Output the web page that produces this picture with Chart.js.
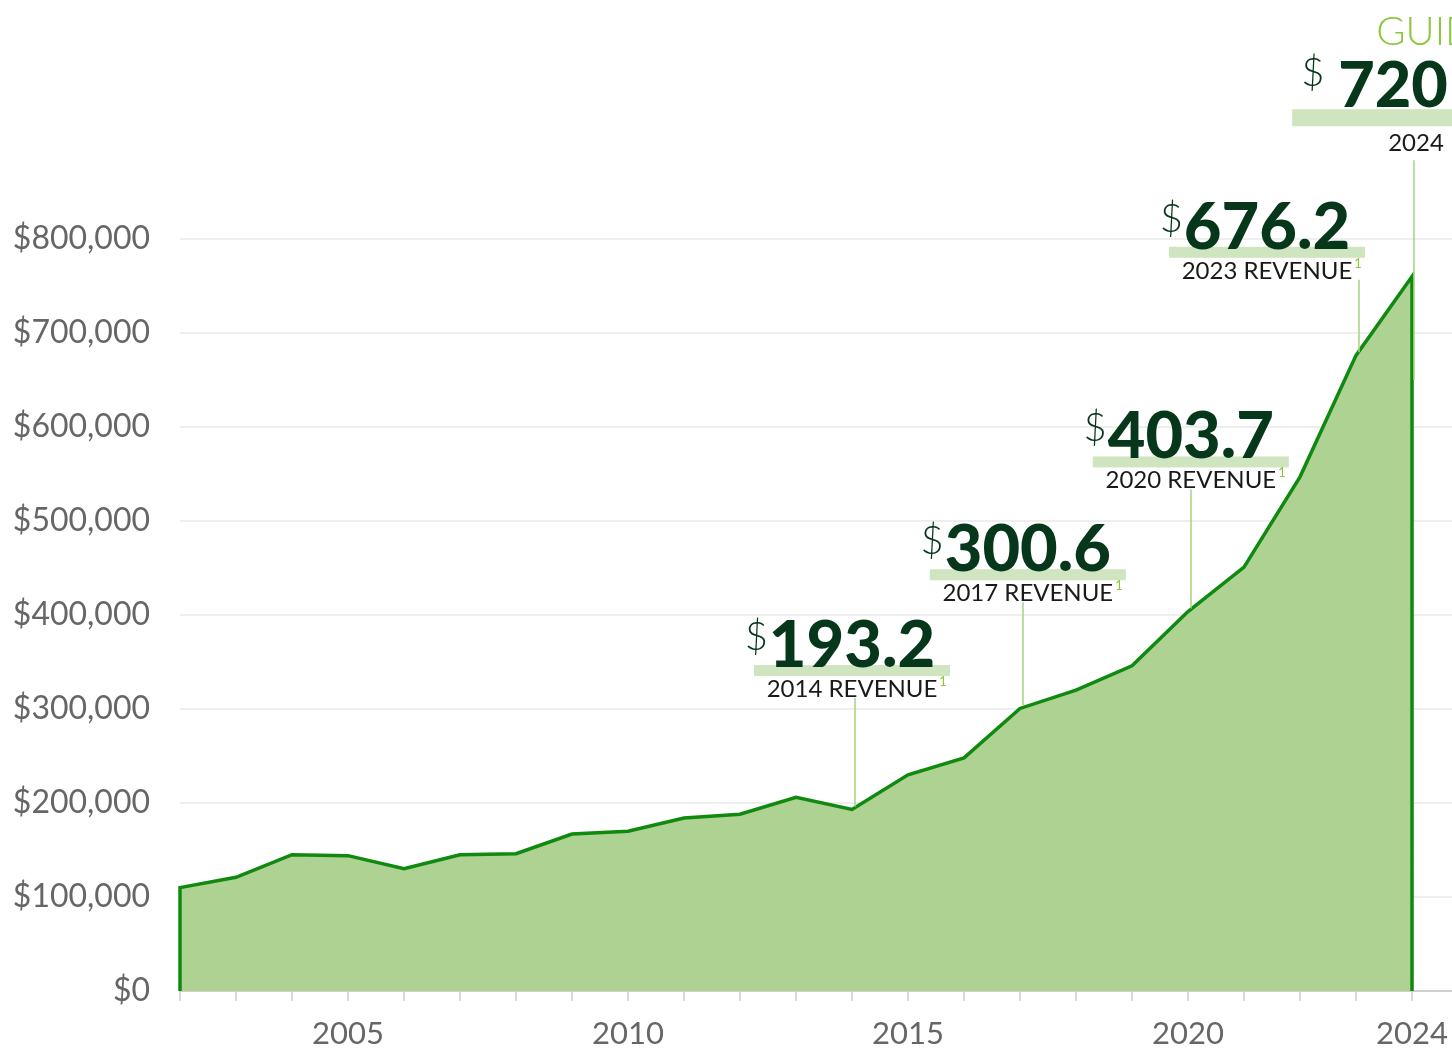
<!DOCTYPE html>
<html>
<head>
<meta charset="utf-8">
<script src="https://cdn.jsdelivr.net/npm/chart.js@4"></script>
<style>
  html, body { margin: 0; padding: 0; background: #fff; }
  #wrap { width: 1452px; height: 1048px; position: relative; }
</style>
</head>
<body>
<div id="wrap"><canvas id="revChart"></canvas></div>
<script>
/* Revenue area chart, 2002–2024 */

const years = [2002, 2003, 2004, 2005, 2006, 2007, 2008, 2009, 2010, 2011, 2012,
  2013, 2014, 2015, 2016, 2017, 2018, 2019, 2020, 2021, 2022, 2023, 2024];
const revenue = [110000, 121000, 145000, 144000, 130000, 145000, 146000, 167000, 170000,
  184000, 188000, 206000, 193200, 230000, 248000, 300600, 320000, 346000, 403700,
  451000, 547000, 676200, 760000];
const yearLabels = [2005, 2010, 2015, 2020, 2024];

// call-outs
const noteYears = [2014, 2017, 2020, 2023];
const noteValues = ['193.2', '300.6', '403.7', '676.2'];
const noteLabels = ['2014 REVENUE', '2017 REVENUE', '2020 REVENUE', '2023 REVENUE'];
const guideYear = 2024;
const guideValue = '720';
const guideLabel = '2024';
const guideTitle = 'GUIDANCE';

// where each call-out bar sits, in axis units (bar centre year, bar bottom value)
const noteAnchors = [
  { x: 2014.0, y: 335000 },
  { x: 2017.14, y: 437000 },
  { x: 2020.05, y: 557000 },
  { x: 2021.41, y: 780000 }
];
// guidance block: bar left edge year, bar bottom value, where its leader stops
const guideAnchor = { x: 2021.86, y: 920000, leadTo: 650000 };

const DARK = '#06371a';
const LIGHT = '#8dc63f';
const BAR = '#cfe5c0';
const LEAD = '#a3d47f';

// closed outline: drop to zero at both ends so the edge is stroked too
const points = [{ x: years[0], y: 0 }]
  .concat(years.map((y, i) => ({ x: y, y: revenue[i] })))
  .concat([{ x: years[years.length - 1], y: 0 }]);

const calloutPlugin = {
  id: 'callouts',
  afterDraw(chart) {
    const ctx = chart.ctx;
    const xs = chart.scales.x, ys = chart.scales.y;
    ctx.save();

    noteYears.forEach((yr, i) => {
      const idx = years.indexOf(yr);
      const px = xs.getPixelForValue(yr);
      const py = ys.getPixelForValue(revenue[idx]);
      const C = xs.getPixelForValue(noteAnchors[i].x);
      const B = ys.getPixelForValue(noteAnchors[i].y);

      // highlight bar
      ctx.fillStyle = BAR;
      ctx.fillRect(C - 98, B - 11, 196, 11);

      // big number
      ctx.font = '900 65px Lato';
      ctx.fillStyle = DARK;
      ctx.textAlign = 'center';
      ctx.textBaseline = 'alphabetic';
      const w = ctx.measureText(noteValues[i]).width;
      ctx.fillText(noteValues[i], C, B - 9);

      // dollar sign
      ctx.font = '300 40px Lato';
      ctx.textAlign = 'right';
      ctx.fillText('$', C - w / 2 - 1, B - 26);

      // label + footnote
      ctx.font = '400 24px Lato';
      ctx.fillStyle = '#1a1a1a';
      ctx.textAlign = 'center';
      const lw = ctx.measureText(noteLabels[i]).width;
      const lc = C;
      ctx.fillText(noteLabels[i], lc, B + 21);
      ctx.font = '400 13px Lato';
      ctx.fillStyle = LIGHT;
      ctx.textAlign = 'left';
      ctx.fillText('1', lc + lw / 2 + 2, B + 10);

      // leader
      const lx = px + 3;
      const top = (lx > lc - lw / 2 && lx < lc + lw / 2 + 8) ? B + 22 : B;
      ctx.strokeStyle = LEAD;
      ctx.lineWidth = 1.5;
      ctx.beginPath();
      ctx.moveTo(lx, top);
      ctx.lineTo(lx, py - 3);
      ctx.stroke();
    });

    // 2024 guidance
    const gx = xs.getPixelForValue(guideYear);
    const L = xs.getPixelForValue(guideAnchor.x);
    const GB = ys.getPixelForValue(guideAnchor.y);
    ctx.fillStyle = BAR;
    ctx.fillRect(L, GB - 17, 200, 17);

    ctx.font = '300 40px Lato';
    ctx.fillStyle = LIGHT;
    ctx.textAlign = 'left';
    ctx.fillText(guideTitle, L + 84, GB - 81);

    ctx.font = '900 63px Lato';
    ctx.fillStyle = DARK;
    ctx.fillText(guideValue, L + 46, GB - 19);
    ctx.font = '300 40px Lato';
    ctx.fillText('$', L + 9, GB - 40);

    ctx.font = '400 24px Lato';
    ctx.fillStyle = '#1a1a1a';
    ctx.textAlign = 'center';
    ctx.fillText(guideLabel, gx + 4, GB + 25);

    ctx.strokeStyle = LEAD;
    ctx.lineWidth = 1.5;
    ctx.beginPath();
    ctx.moveTo(gx + 2, GB + 34);
    ctx.lineTo(gx + 2, ys.getPixelForValue(guideAnchor.leadTo));
    ctx.stroke();

    ctx.restore();
  }
};

new Chart(document.getElementById('revChart'), {
  type: 'line',
  data: {
    datasets: [{
      data: points,
      borderColor: '#0f890f',
      borderWidth: 3.5,
      backgroundColor: '#aed291',
      fill: 'origin',
      pointRadius: 0,
      tension: 0,
      clip: 10
    }]
  },
  options: {
    responsive: true,
    maintainAspectRatio: false,
    animation: false,
    layout: { padding: { top: 239, right: 0, left: 0, bottom: 0 } },
    plugins: { legend: { display: false }, tooltip: { enabled: false } },
    scales: {
      x: {
        type: 'linear',
        min: 2002,
        max: 2024.714,
        afterBuildTicks: (scale) => { scale.ticks = years.map(v => ({ value: v })); },
        afterFit: (scale) => {
          scale.height = 57;
          scale.paddingLeft = 0;
          scale.paddingRight = 0;
        },
        grid: { display: true, drawOnChartArea: false, drawTicks: true, tickLength: 10, color: '#d9d9d9', lineWidth: 2 },
        border: { display: true, color: '#d0d0d0', width: 2 },
        ticks: {
          autoSkip: false,
          maxRotation: 0,
          padding: 14,
          color: '#666',
          font: { family: 'Lato', size: 31 },
          callback: (v) => yearLabels.includes(v) ? String(v) : ''
        }
      },
      y: {
        min: 0,
        max: 800000,
        afterFit: (scale) => { scale.width = 180; },
        grid: { color: '#eeeeee', lineWidth: 2, drawTicks: false },
        border: { display: false },
        ticks: {
          stepSize: 100000,
          padding: 30,
          color: '#666',
          font: { family: 'Lato', size: 32 },
          callback: (v) => '$' + v.toLocaleString('en-US')
        }
      }
    }
  },
  plugins: [calloutPlugin]
});
</script>
</body>
</html>
